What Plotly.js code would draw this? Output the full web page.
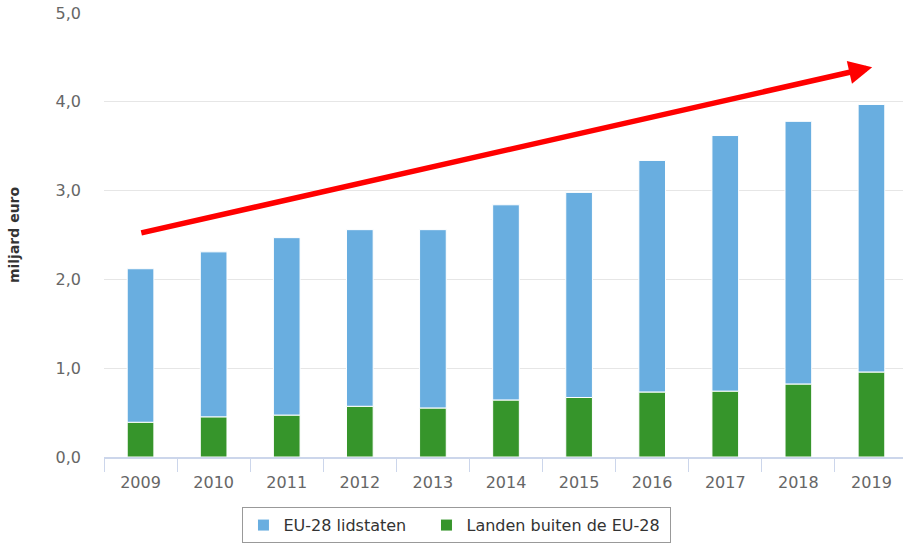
<!DOCTYPE html>
<html>
<head>
<meta charset="utf-8">
<script src="https://cdn.plot.ly/plotly-3.0.1.min.js"></script>
<style>html,body{margin:0;padding:0;overflow:hidden;background:#fff;} #chart{width:910px;height:546px;}</style>
</head>
<body>
<div id="chart"></div>
<script>
const years = ['2009','2010','2011','2012','2013','2014','2015','2016','2017','2018','2019'];
const buitenEU = [0.39, 0.45, 0.47, 0.57, 0.55, 0.64, 0.67, 0.73, 0.74, 0.82, 0.955];
const totaal = [2.12, 2.31, 2.47, 2.56, 2.56, 2.84, 2.98, 3.34, 3.62, 3.78, 3.97];
const eu28 = totaal.map((t, i) => +(t - buitenEU[i]).toFixed(3));
const seriesNames = ['EU-28 lidstaten', 'Landen buiten de EU-28'];
const trendStart = 2.52;
const trendEnd = 4.39;

const font = "'DejaVu Sans', Verdana, sans-serif";
const traces = [
  {type:'bar', name: seriesNames[0] + '\u00a0\u00a0\u00a0', x: years, y: eu28, base: buitenEU,
   marker:{color:'#69aee0', line:{color:'#ffffff', width:1}}, hoverinfo:'none'},
  {type:'bar', name: seriesNames[1] + '\u00a0', x: years, y: buitenEU,
   marker:{color:'#36952b', line:{color:'#ffffff', width:1}}, hoverinfo:'none'}
];
const layout = {
  width: 910, height: 546,
  margin: {l:104, r:2, t:13, b:89},
  barmode: 'overlay',
  bargap: 0.635,
  separators: ',.',
  paper_bgcolor:'#fff', plot_bgcolor:'#fff',
  font: {family: font, size: 16, color:'#666'},
  showlegend: true,
  legend: {orientation:'h', x:0.439, xanchor:'center', y:-0.113, yanchor:'top',
    bordercolor:'#999', borderwidth:1, font:{family:font, size:16, color:'#333'},
    traceorder:'normal', itemwidth:30},
  xaxis: {type:'category', tickson:'boundaries', ticks:'outside', ticklen:13,
    tickcolor:'#ccd6eb', tickwidth:1, showline:true, linecolor:'#ccd6eb', linewidth:2,
    showgrid:false, ticklabelstandoff:10,
    tickfont:{family:font, size:16, color:'#666'}, fixedrange:true},
  yaxis: {range:[0,5], dtick:1, tickformat:'.1f', gridcolor:'#e6e6e6', gridwidth:1,
    zeroline:false, showline:false, ticks:'', ticklabelstandoff:22,
    tickfont:{family:font, size:16, color:'#666'},
    title:{text:'<b>miljard euro</b>', font:{family:font, size:14, color:'#333'}, standoff:32},
    automargin:false, fixedrange:true},
  annotations: [{
    x: 10.01, y: trendEnd, xref:'x', yref:'y',
    ax: -0.01, ay: trendStart, axref:'x', ayref:'y',
    text:'', showarrow:true, arrowhead:2, arrowsize:0.85, arrowwidth:5.5,
    arrowcolor:'#ff0000', standoff:0
  }]
};
Plotly.newPlot('chart', traces, layout, {displayModeBar:false, staticPlot:true});
</script>
</body>
</html>
